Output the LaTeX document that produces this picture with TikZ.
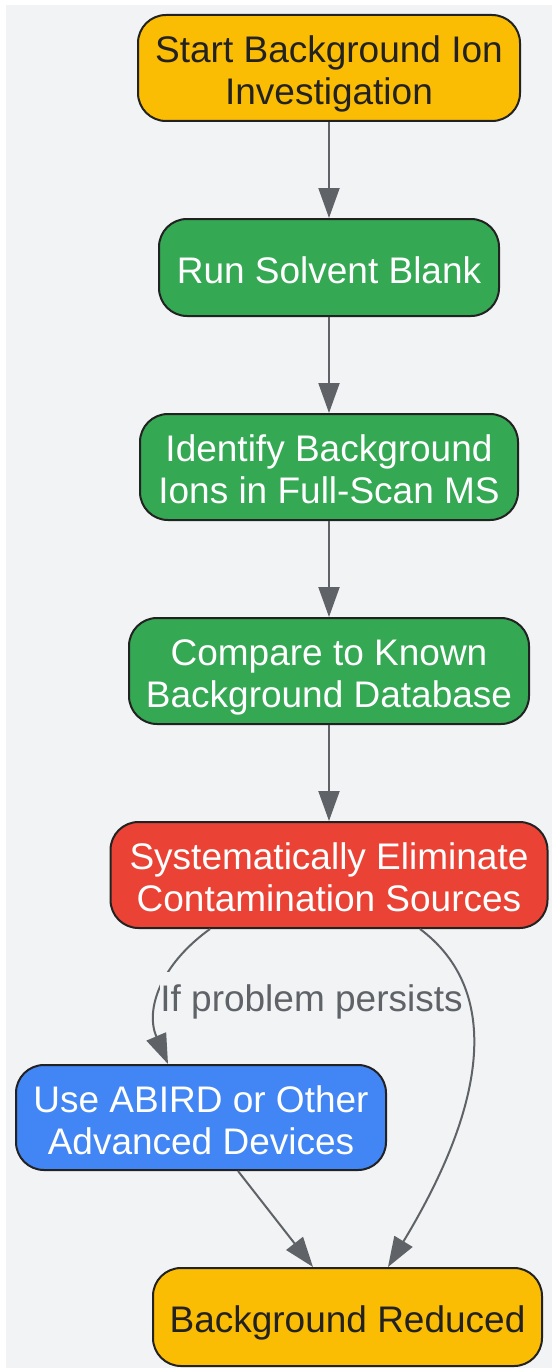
\documentclass[tikz,border=0pt]{standalone}
\usepackage{xcolor}
\usepackage{fontspec}
\setmainfont{Liberation Sans}
\usetikzlibrary{positioning}
\usetikzlibrary{arrows.meta}

\definecolor{bgGray}{HTML}{F1F3F4}
\definecolor{boxLine}{HTML}{222222}
\definecolor{arrowGray}{HTML}{5F6368}
\definecolor{startYellow}{HTML}{FBBC04}
\definecolor{stepGreen}{HTML}{34A853}
\definecolor{stopRed}{HTML}{EA4335}
\definecolor{toolBlue}{HTML}{4285F4}

% fixed height of first line and depth of last line
\newcommand{\linetop}{\rule{0pt}{40pt}}
\newcommand{\linebot}{\rule[-9pt]{0pt}{9pt}}

\begin{document}
\begin{tikzpicture}[x=1pt, y=-1pt,
    linetext/.style={font=\fontsize{37}{42}\selectfont},
    box/.style={linetext, draw=boxLine, line width=2pt, rounded corners=28pt, align=center, inner sep=0pt},
    flow/.style={draw=arrowGray, line width=2pt, -{Triangle[length=30pt, width=21pt]}}]
    \useasboundingbox (0,0) rectangle (552,1370);
    \fill[bgGray] (6,5) rectangle (552,1368);

    \node[box, fill=startYellow, text=boxLine, minimum width=382pt, minimum height=106pt] (start) at (329,68) {\linetop Start Background Ion\\Investigation\linebot};
    \node[box, fill=stepGreen, text=white, minimum width=340pt, minimum height=97pt] (blank) at (329,267.5) {\linetop Run Solvent Blank\linebot};
    \node[box, fill=stepGreen, text=white, minimum width=378pt, minimum height=106pt] (identify) at (329,467) {\linetop Identify Background\\Ions in Full-Scan MS\linebot};
    \node[box, fill=stepGreen, text=white, minimum width=400pt, minimum height=106pt] (compare) at (329,671) {\linetop Compare to Known\\Background Database\linebot};
    \node[box, fill=stopRed, text=white, minimum width=437pt, minimum height=106pt] (eliminate) at (329,875) {\linetop Systematically Eliminate\\Contamination Sources\linebot};
    \node[box, fill=toolBlue, text=white, minimum width=370pt, minimum height=105pt] (abird) at (201,1117.5) {\linetop Use ABIRD or Other\\Advanced Devices\linebot};
    \node[box, fill=startYellow, text=boxLine, minimum width=389pt, minimum height=98pt] (reduced) at (347.5,1317) {\linetop Background Reduced\linebot};

    \draw[flow] (start) -- (blank);
    \draw[flow] (blank) -- (identify);
    \draw[flow] (identify) -- (compare);
    \draw[flow] (compare) -- (eliminate);

    \draw[flow] ([xshift=-119pt]eliminate.south) .. controls (160,965) and (145,1010) .. ([xshift=-33pt]abird.north);
    \node[linetext, fill=bgGray, inner sep=0pt, text=arrowGray] (persists) at (311.5,996) {\linetop If problem persists\linebot};

    \draw[flow] ([xshift=91pt]eliminate.south) .. controls (495,985) and (495,1090) .. ([xshift=40.5pt]reduced.north);
    \draw[flow] ([xshift=37pt]abird.south) -- ([xshift=-34.5pt]reduced.north);
\end{tikzpicture}
\end{document}
